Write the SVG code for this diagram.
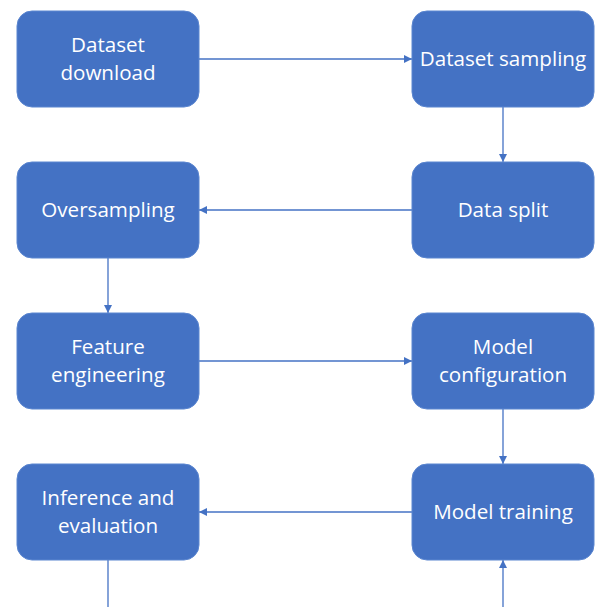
<svg xmlns="http://www.w3.org/2000/svg" width="595" height="607" viewBox="0 0 595 607">
<style>
.box{fill:#4472C4;stroke:#5B86D0;stroke-width:1}
.t{font-family:"Open Sans","Noto Sans",sans-serif;font-size:20.6px;fill:#fff;text-anchor:middle}
.c{stroke:#4472C4;stroke-width:1.3;fill:none}
</style>
<defs>
<marker id="ah" viewBox="0 0 10 10" refX="10" refY="5" markerWidth="8" markerHeight="8" markerUnits="userSpaceOnUse" orient="auto">
<path d="M0,0 L10,5 L0,10 z" fill="#4472C4"/>
</marker>
</defs>
<rect width="595" height="607" fill="#fff"/>
<g id="connectors">
<line class="c" x1="199" y1="59" x2="412" y2="59" marker-end="url(#ah)"/>
<line class="c" x1="503" y1="107" x2="503" y2="162" marker-end="url(#ah)"/>
<line class="c" x1="412" y1="210" x2="199" y2="210" marker-end="url(#ah)"/>
<line class="c" x1="108" y1="258" x2="108" y2="313" marker-end="url(#ah)"/>
<line class="c" x1="199" y1="361" x2="412" y2="361" marker-end="url(#ah)"/>
<line class="c" x1="503" y1="409" x2="503" y2="464" marker-end="url(#ah)"/>
<line class="c" x1="412" y1="512" x2="199" y2="512" marker-end="url(#ah)"/>
<line class="c" x1="108" y1="560" x2="108" y2="607"/>
<line class="c" x1="503" y1="607" x2="503" y2="560" marker-end="url(#ah)"/>
</g>
<g id="n1"><rect class="box" x="17" y="11" width="182" height="96" rx="15"/><text class="t" x="108" y="52">Dataset</text><text class="t" x="108" y="80">download</text></g>
<g id="n2"><rect class="box" x="412" y="11" width="182" height="96" rx="15"/><text class="t" x="503" y="66">Dataset sampling</text></g>
<g id="n3"><rect class="box" x="412" y="162" width="182" height="96" rx="15"/><text class="t" x="503" y="217">Data split</text></g>
<g id="n4"><rect class="box" x="17" y="162" width="182" height="96" rx="15"/><text class="t" x="108" y="217">Oversampling</text></g>
<g id="n5"><rect class="box" x="17" y="313" width="182" height="96" rx="15"/><text class="t" x="108" y="354">Feature</text><text class="t" x="108" y="382">engineering</text></g>
<g id="n6"><rect class="box" x="412" y="313" width="182" height="96" rx="15"/><text class="t" x="503" y="354">Model</text><text class="t" x="503" y="382">configuration</text></g>
<g id="n7"><rect class="box" x="412" y="464" width="182" height="96" rx="15"/><text class="t" x="503" y="519">Model training</text></g>
<g id="n8"><rect class="box" x="17" y="464" width="182" height="96" rx="15"/><text class="t" x="108" y="505">Inference and</text><text class="t" x="108" y="533">evaluation</text></g>
</svg>
